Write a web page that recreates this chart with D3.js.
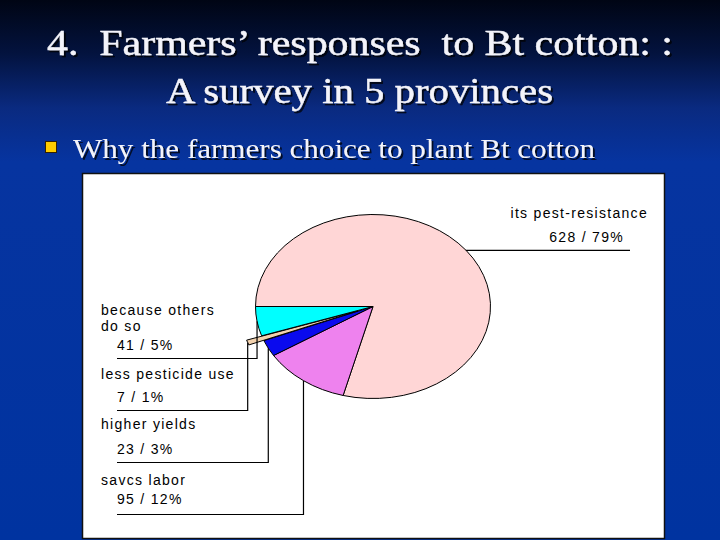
<!DOCTYPE html>
<html>
<head>
<meta charset="utf-8">
<script src="https://cdn.jsdelivr.net/npm/d3@7"></script>
<style>
  html, body { margin: 0; padding: 0; background: #0033a0; }
  svg { display: block; }
  text { white-space: pre; }
</style>
</head>
<body>
<script>
// ---- data ----
const titleLines = ["4.  Farmers\u2019 responses  to Bt cotton: :", "A survey in 5 provinces"];
const bulletText = "Why the farmers choice to plant Bt cotton";
const categories = ["its pest-resistance", "savcs labor", "higher yields", "less pesticide use", "because others do so"];
const counts = [628, 95, 23, 7, 41];
const percents = [79, 12, 3, 1, 5];
const sliceColors = ["#ffd6d6", "#ee82ee", "#0a0aee", "#f3d2ae", "#00ffff"];

// ---- layout ----
const W = 720, H = 540;
const svg = d3.select("body").append("svg").attr("width", W).attr("height", H);
const defs = svg.append("defs");
const grad = defs.append("linearGradient").attr("id", "bg").attr("x1", 0).attr("y1", 0).attr("x2", 0).attr("y2", 1);
[[0, "#000514"], [0.1, "#03133f"], [0.2, "#0a2a80"], [0.3, "#0634a0"], [1, "#0033a0"]]
  .forEach(([o, c]) => grad.append("stop").attr("offset", o).attr("stop-color", c));
const shadow = defs.append("filter").attr("id", "shadow").attr("x", -0.05).attr("y", -0.2).attr("width", 1.1).attr("height", 1.5);
shadow.append("feDropShadow").attr("dx", 2).attr("dy", 2).attr("stdDeviation", 0.6)
  .attr("flood-color", "#000").attr("flood-opacity", 0.75);
svg.append("rect").attr("width", W).attr("height", H).attr("fill", "url(#bg)");

// title with shadow
const titleY = [55, 103];
const titleSpan = [[47, 673], [166, 553]];
titleLines.forEach((t, i) => {
  svg.append("text")
    .attr("x", titleSpan[i][0]).attr("y", titleY[i])
    .attr("textLength", titleSpan[i][1] - titleSpan[i][0])
    .attr("lengthAdjust", "spacingAndGlyphs")
    .attr("font-family", "Liberation Serif, serif")
    .attr("font-size", 36)
    .attr("stroke", "#f4f4fa").attr("stroke-width", 0.4)
    .attr("fill", "#f4f4fa").attr("filter", "url(#shadow)")
    .text(t);
});

// bullet
svg.append("rect").attr("x", 45.5).attr("y", 141.5).attr("width", 11).attr("height", 11)
  .attr("fill", "#ffcc00").attr("stroke", "#332200").attr("stroke-width", 1);
svg.append("text").attr("x", 73).attr("y", 158)
  .attr("textLength", 522).attr("lengthAdjust", "spacingAndGlyphs")
  .attr("font-family", "Liberation Serif, serif").attr("font-size", 28)
  .attr("fill", "#f4f4fa").attr("filter", "url(#shadow)")
  .text(bulletText);

// white chart panel
svg.append("rect").attr("x", 82.5).attr("y", 173.5).attr("width", 582).attr("height", 365)
  .attr("fill", "#fff").attr("stroke", "#111").attr("stroke-width", 1.5);

// ---- pie (elliptical) ----
const cx = 373, cy = 306.5, rx = 117.5, ry = 92;
const pie = d3.pie().sort(null).startAngle(-Math.PI / 2).endAngle(1.5 * Math.PI);
const arcs = pie(counts);
const arc = d3.arc().innerRadius(0).outerRadius(rx);
const explode = [0, 0, 0, 16, 0];

const g = svg.append("g").attr("transform", `translate(${cx},${cy}) scale(1,${ry / rx})`);
g.selectAll("path").data(arcs).join("path")
  .attr("d", arc)
  .attr("transform", (d, i) => {
    const a = (d.startAngle + d.endAngle) / 2;
    return `translate(${explode[i] * Math.sin(a)},${-explode[i] * Math.cos(a)})`;
  })
  .attr("fill", (d, i) => sliceColors[i])
  .attr("stroke", "#000").attr("stroke-width", 1)
  .attr("vector-effect", "non-scaling-stroke");

// edge point of each slice (on ellipse at mid-angle)
function edgePoint(d, i) {
  const a = (d.startAngle + d.endAngle) / 2;
  const r = rx + explode[i];
  return [cx + r * Math.sin(a), cy - r * Math.cos(a) * (ry / rx)];
}

// ---- labels & leader lines ----
const lab = svg.append("g").attr("font-family", "Liberation Sans, Arial, sans-serif")
  .attr("font-size", 14).attr("letter-spacing", 1.3).attr("fill", "#000");
const lines = svg.append("g").attr("stroke", "#000").attr("stroke-width", 1.2).attr("fill", "none");

// right label (pest-resistance)
{
  const [px, py] = edgePoint(arcs[0], 0);
  lines.append("path").attr("d", `M${px},${py}H630`);
  lab.append("text").attr("x", 648).attr("y", 218).attr("text-anchor", "end").text(categories[0]);
  lab.append("text").attr("x", 624).attr("y", 242).attr("text-anchor", "end")
    .text(`${counts[0]} / ${percents[0]}%`);
}

// left labels
const leftLayout = {
  4: { lines: ["because others", "do so"], y: [315, 330.5], vy: 350, uy: 358.5 },
  3: { lines: ["less pesticide use"], y: [378.5], vy: 402, uy: 410.5 },
  2: { lines: ["higher yields"], y: [428.5], vy: 453.5, uy: 462.5 },
  1: { lines: ["savcs labor"], y: [485], vy: 504, uy: 514.5 }
};
Object.keys(leftLayout).forEach(k => {
  const i = +k, L = leftLayout[k];
  const [px, py] = edgePoint(arcs[i], i);
  L.lines.forEach((t, j) => lab.append("text").attr("x", 101).attr("y", L.y[j]).text(t));
  lab.append("text").attr("x", 117).attr("y", L.vy).text(`${counts[i]} / ${percents[i]}%`);
  lines.append("path").attr("d", `M${px},${py}V${L.uy}H117`);
});
</script>
</body>
</html>
